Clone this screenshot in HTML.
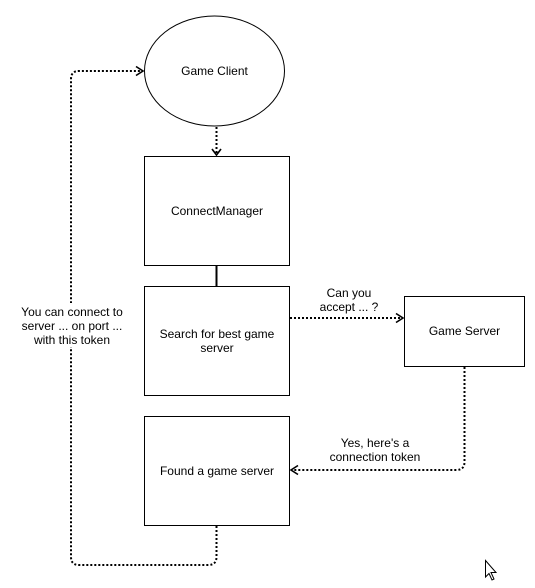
<!DOCTYPE html>
<html><head><style>
html,body{margin:0;padding:0;background:#fff;}
svg{display:block;}
text{font-family:"Liberation Sans",Arial,sans-serif;font-size:12px;fill:#000;}
</style></head><body>
<svg width="535" height="588" viewBox="0 0 535 588" xmlns="http://www.w3.org/2000/svg">
<g fill="#fff" stroke="#000" stroke-width="1">
<ellipse cx="214.5" cy="71" rx="70" ry="55"/>
<rect x="144.5" y="156.5" width="145" height="109"/>
<rect x="144.5" y="286.5" width="145" height="109"/>
<rect x="404.5" y="296.5" width="120" height="70"/>
<rect x="144.5" y="416.5" width="145" height="109"/>
</g>
<line x1="216.5" y1="266" x2="216.5" y2="286" stroke="#000" stroke-width="2"/>
<g fill="none" stroke="#000" stroke-width="2" stroke-dasharray="2,2">
<path d="M216.5 127 V154"/>
<path d="M290 318 H402"/>
<path d="M464.5 367 V462 Q464.5 470 456 470 H292"/>
<path d="M216.5 526 V557 Q216.5 565 208 565 H79 Q71 565 71 557 V79 Q71 71 79 71 H142"/>
</g>
<g fill="none" stroke="#000" stroke-width="1.6">
<path d="M212 149 L216.5 155 L221 149"/>
<path d="M396 313.5 L403 318 L396 322.5"/>
<path d="M298 465.5 L291 470 L298 474.5"/>
<path d="M136 66.5 L143 71 L136 75.5"/>
</g>
<rect x="18" y="303" width="108" height="44" fill="#fff"/>
<g text-anchor="middle">
<text x="214.5" y="75">Game Client</text>
<text x="217" y="215">ConnectManager</text>
<text x="217" y="338">Search for best game</text>
<text x="217" y="352">server</text>
<text x="464.5" y="335">Game Server</text>
<text x="217" y="475">Found a game server</text>
<text x="349" y="297">Can you</text>
<text x="349" y="311">accept ... ?</text>
<text x="375" y="447">Yes, here's a</text>
<text x="375" y="461">connection token</text>
<text x="72" y="316">You can connect to</text>
<text x="72" y="330">server ... on port ...</text>
<text x="72" y="344">with this token</text>
</g>
<path d="M485.5 560.5 V577 L489 573.5 L492 580 L494 579 L491 572.5 L496 572.5 Z" fill="#fff" stroke="#000" stroke-width="1"/>
</svg>
</body></html>
